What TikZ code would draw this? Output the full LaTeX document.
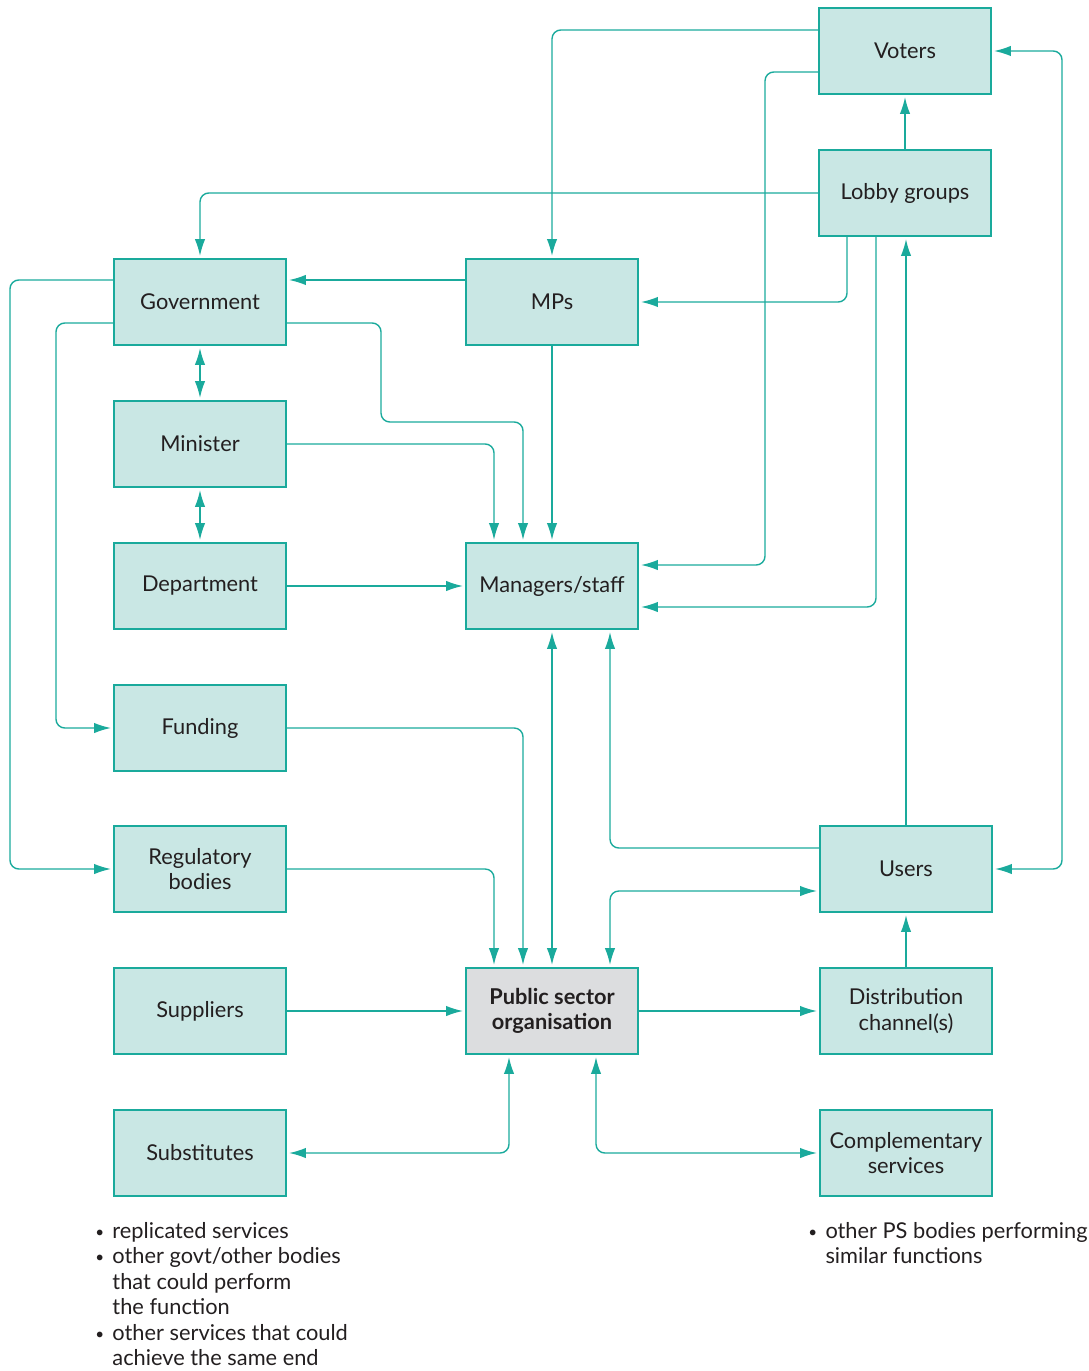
\documentclass[tikz,border=0pt]{standalone}
\usepackage{fontspec}
\setmainfont{Lato}
\usetikzlibrary{calc,arrows.meta}

\definecolor{pslink}{HTML}{1AAA9C}
\definecolor{psfill}{HTML}{C9E7E4}
\definecolor{psgrey}{HTML}{DCDDDF}
\definecolor{pstext}{HTML}{231F20}

\newcommand{\bul}{\makebox[0.43cm][l]{\raisebox{0.1ex}{\scalebox{0.7}{•}}}}
\newcommand{\ind}{\hspace*{0.43cm}}

\begin{document}
\begin{tikzpicture}[x=0.025cm, y=-0.025cm,
    font=\fontsize{15.5}{18}\selectfont, text=pstext,
    >={Latex[length=0.42cm, width=0.26cm]},
    box/.style={draw=pslink, fill=psfill, line width=1.4pt, align=center,
      minimum width=4.3cm, minimum height=2.15cm, inner sep=0pt},
    link/.style={->, draw=pslink, line width=1pt, rounded corners=0.22cm, shorten >=1.5pt},
    link2/.style={link, <->, shorten <=1.5pt},
    notes/.style={align=left, inner sep=0pt, anchor=north west,
      font=\fontsize{15.5}{18.1}\selectfont}]
  \useasboundingbox (0,0) rectangle (1088,1371);

  % boxes
  \node[box] (voters)    at (905,51)   {Voters};
  \node[box] (lobby)     at (905,193)  {Lobby groups};
  \node[box] (gov)       at (200,302)  {Government};
  \node[box] (mps)       at (552,302)  {MPs};
  \node[box] (minister)  at (200,444)  {Minister};
  \node[box] (dept)      at (200,586)  {Department};
  \node[box] (managers)  at (552,586)  {Managers/staff};
  \node[box] (funding)   at (200,728)  {Funding};
  \node[box] (reg)       at (200,869)  {Regulatory\\bodies};
  \node[box] (users)     at (906,869)  {Users};
  \node[box] (suppliers) at (200,1011) {Suppliers};
  \node[box, fill=psgrey, font=\fontsize{15.5}{18}\selectfont\bfseries] (pso) at (552,1011) {Public sector\\organisation};
  \node[box] (dist)      at (906,1011) {Distribution\\channel(s)};
  \node[box] (subs)      at (200,1153) {Substitutes};
  \node[box] (comp)      at (906,1153) {Complementary\\services};

  % links at the top
  \draw[link] ($(voters.west)+(0,-21)$) -| (mps.north);
  \draw[link] ($(voters.west)+(0,21)$) -- (765,72) |- ($(managers.east)+(0,-21)$);
  \draw[link] (lobby.north) -- (voters.south);
  \draw[link] (lobby.west) -| (gov.north);
  \draw[link] ($(lobby.south)+(-58,0)$) |- (mps.east);
  \draw[link] ($(lobby.south)+(-29,0)$) |- ($(managers.east)+(0,21)$);
  \draw[link] (users.north) -- (users.north |- lobby.south);
  \draw[link2] (users.east) -- (1062,869) |- (voters.east);
  \draw[link] ($(mps.west)+(0,-22)$) -- ($(gov.east)+(0,-22)$);

  % government side
  \draw[link] ($(gov.west)+(0,-22)$) -- (10,280) |- (reg.west);
  \draw[link] ($(gov.west)+(0,21)$) -- (56,323) |- (funding.west);
  \draw[link2] (gov.south) -- (minister.north);
  \draw[link2] (minister.south) -- (dept.north);
  \draw[link] ($(gov.east)+(0,21)$) -| (381,422) -| ($(managers.north)+(-29,0)$);
  \draw[link] (minister.east) -| ($(managers.north)+(-58,0)$);
  \draw[link] (mps.south) -- (managers.north);
  \draw[link] (dept.east) -- (managers.west);
  \draw[link] (funding.east) -| ($(pso.north)+(-29,0)$);
  \draw[link] (reg.east) -| ($(pso.north)+(-58,0)$);

  % around the organisation
  \draw[link2] (managers.south) -- (pso.north);
  \draw[link] ($(users.west)+(0,-21)$) -| ($(managers.south)+(58,0)$);
  \draw[link2] ($(pso.north)+(58,0)$) |- ($(users.west)+(0,22)$);
  \draw[link] (suppliers.east) -- (pso.west);
  \draw[link] (pso.east) -- (dist.west);
  \draw[link] (dist.north) -- (users.south);
  \draw[link2] ($(pso.south)+(-43,0)$) |- (subs.east);
  \draw[link2] ($(pso.south)+(44,0)$) |- (comp.west);

  % notes
  \node[notes] (subsnotes) at (95,1222) {\bul replicated services\\
    \bul other govt/other bodies\\ \ind that could perform\\ \ind the function\\
    \bul other services that could\\ \ind achieve the same end};
  \node[notes] (compnotes) at (808,1222) {\bul other PS bodies performing\\
    \ind similar functions};
\end{tikzpicture}
\end{document}
